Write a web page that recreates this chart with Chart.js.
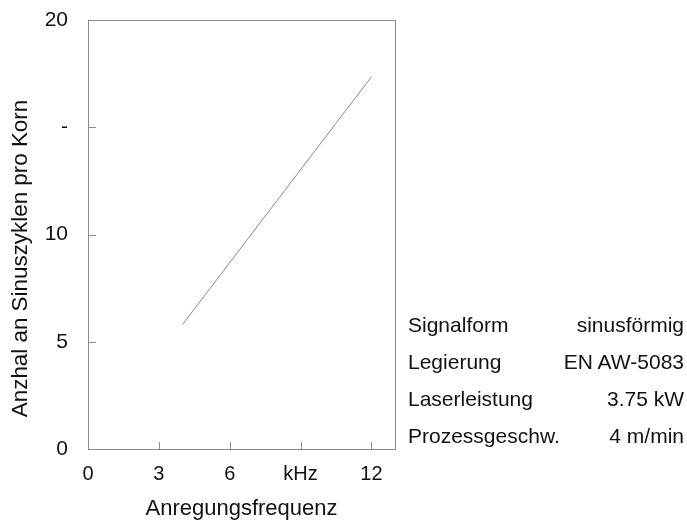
<!DOCTYPE html>
<html>
<head>
<meta charset="utf-8">
<script src="https://cdn.jsdelivr.net/npm/chart.js@4/dist/chart.umd.min.js"></script>
<style>
  html, body { margin: 0; padding: 0; background: #fff; }
  #wrap { position: relative; width: 687px; height: 525px; }
  #info { position: absolute; left: 408px; top: 311px; width: 276px; font-family: "Liberation Sans", Arial, sans-serif; font-size: 21px; color: #111; }
  #info .row { display: flex; justify-content: space-between; height: 37px; line-height: 28px; }
</style>
</head>
<body>
<div id="wrap">
  <canvas id="myChart" width="687" height="525"></canvas>
  <div id="info"></div>
</div>
<script>
const textColor = "#111";
const axisColor = "#8c8c8c";
const fontFamily = "'Liberation Sans', Arial, sans-serif";

// data
const freq = [4, 12];
const cycles = [5.8, 17.35];
const xTicks = [0, 3, 6, 9, 12];
const xTickLabels = ["0", "3", "6", "kHz", "12"];
const yTicks = [0, 5, 10, 15, 20];
const yTickLabels = ["0", "5", "10", "-", "20"];
const infoLabels = ["Signalform", "Legierung", "Laserleistung", "Prozessgeschw."];
const infoValues = ["sinusförmig", "EN AW-5083", "3.75 kW", "4 m/min"];

const info = document.getElementById("info");
infoLabels.forEach((label, i) => {
  const row = document.createElement("div");
  row.className = "row";
  row.innerHTML = "<span>" + label + "</span><span>" + infoValues[i] + "</span>";
  info.appendChild(row);
});

// frame round the plot, inward tick marks, rotated y title
const framePlugin = {
  id: "frame",
  afterDraw(chart) {
    const { ctx, chartArea: a, scales } = chart;
    ctx.save();
    ctx.strokeStyle = axisColor;
    ctx.lineWidth = 1;
    ctx.strokeRect(a.left + 0.5, a.top + 0.5, a.right - a.left, a.bottom - a.top);
    ctx.beginPath();
    xTicks.slice(1).forEach(v => {
      const x = Math.round(scales.x.getPixelForValue(v)) + 0.5;
      ctx.moveTo(x, a.bottom);
      ctx.lineTo(x, a.bottom - 7);
    });
    yTicks.slice(1, -1).forEach(v => {
      const y = Math.round(scales.y.getPixelForValue(v)) + 0.5;
      ctx.moveTo(a.left, y);
      ctx.lineTo(a.left + 8, y);
    });
    ctx.stroke();

    ctx.fillStyle = textColor;
    ctx.font = "22.4px " + fontFamily;
    ctx.textAlign = "center";
    ctx.textBaseline = "middle";
    ctx.translate(21, (a.top + a.bottom) / 2 + 24);
    ctx.rotate(-Math.PI / 2);
    ctx.fillText("Anzhal an Sinuszyklen pro Korn", 0, 0);
    ctx.restore();
  }
};

const ctx = document.getElementById("myChart");
new Chart(ctx, {
  type: "scatter",
  data: {
    datasets: [{
      data: freq.map((x, i) => ({ x: x, y: cycles[i] })),
      showLine: true,
      borderColor: "#8a8a8a",
      borderWidth: 1,
      pointRadius: 0,
      fill: false,
    }],
  },
  options: {
    responsive: false,
    animation: false,
    layout: { padding: { left: 0, top: 20, right: 292, bottom: 0 } },
    plugins: {
      legend: { display: false },
      tooltip: { enabled: false },
    },
    scales: {
      x: {
        type: "linear",
        min: 0,
        max: 13,
        afterBuildTicks: (scale) => { scale.ticks = xTicks.map(v => ({ value: v })); },
        afterFit: (scale) => {
          scale.height = 76;
          scale.paddingLeft = 0;
          scale.paddingRight = 0;
        },
        grid: { display: false, drawTicks: false, tickLength: 0 },
        border: { display: false },
        ticks: {
          color: textColor,
          padding: 13,
          maxRotation: 0,
          font: { family: fontFamily, size: 20 },
          callback: (value) => xTickLabels[xTicks.indexOf(value)],
        },
        title: {
          display: true,
          text: "Anregungsfrequenz",
          color: textColor,
          font: { family: fontFamily, size: 22 },
          padding: { top: 0, bottom: 3 },
        },
      },
      y: {
        type: "linear",
        min: 0,
        max: 20,
        afterBuildTicks: (scale) => { scale.ticks = yTicks.map(v => ({ value: v })); },
        afterFit: (scale) => {
          scale.width = 88;
          scale.paddingTop = 0;
          scale.paddingBottom = 0;
        },
        grid: { display: false, drawTicks: false, tickLength: 0 },
        border: { display: false },
        ticks: {
          color: textColor,
          padding: 20,
          font: { family: fontFamily, size: 21 },
          callback: (value) => yTickLabels[yTicks.indexOf(value)],
        },
      },
    },
  },
  plugins: [framePlugin],
});
</script>
</body>
</html>
